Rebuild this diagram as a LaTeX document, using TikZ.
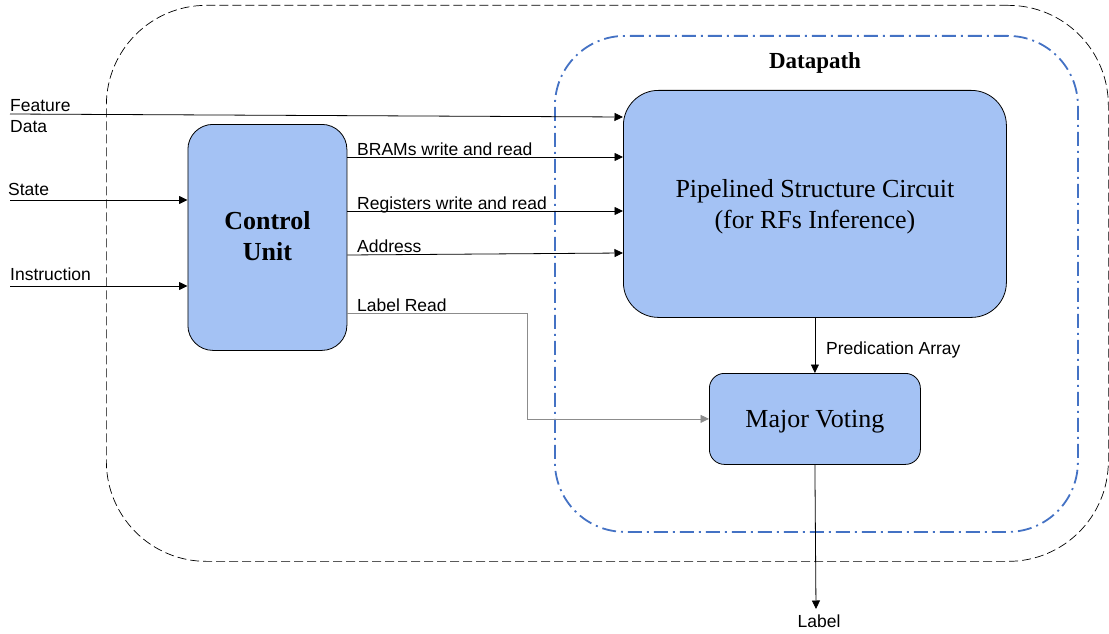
\documentclass[tikz,border=0pt]{standalone}
\usepackage{fontspec}
\setmainfont{Liberation Serif}
\setsansfont{Liberation Sans}
\usetikzlibrary{arrows.meta,calc}
\definecolor{boxfill}{RGB}{164,194,244}
\definecolor{dpblue}{RGB}{68,114,196}
\definecolor{wiregray}{RGB}{140,140,140}

\begin{document}
\begin{tikzpicture}[x=1pt,y=-1pt,
  blk/.style={draw=black, line width=0.8pt, fill=boxfill, rounded corners=#1,
              inner sep=0pt, anchor=north west, align=center},
  wire/.style={line width=0.8pt, -{Triangle[length=8.5pt,width=8pt]}},
  sig/.style={font=\fontsize{17.5}{20}\selectfont\sffamily, inner sep=0pt, anchor=base west},
  big/.style={font=\fontsize{26}{31}\selectfont},
  bigbold/.style={font=\fontsize{26}{31}\selectfont\bfseries},
  frame/.style={inner sep=0pt, anchor=north west, fill=none},
]
\useasboundingbox (0,0) rectangle (1109,634);

% outer boundary and datapath region
\node[frame, draw=black, line width=0.7pt, dash pattern=on 9pt off 4pt,
      rounded corners=100pt, minimum width=1002pt, minimum height=556pt] (outer) at (106,5) {};
\node[frame, draw=dpblue, line width=1.8pt, dash pattern=on 14pt off 5pt on 2pt off 5pt,
      rounded corners=70pt, minimum width=523pt, minimum height=496pt] (dp) at (554,35) {};
\node[font=\fontsize{23}{27}\selectfont\bfseries, inner sep=0pt, anchor=base] (dptitle) at (815,69) {Datapath};

% blocks
\node[blk=25pt, bigbold, minimum width=159pt, minimum height=226pt, text depth=2pt] (cu) at (187.5,124) {Control\\Unit};
\node[blk=35pt, big, minimum width=383pt, minimum height=227pt, text depth=0pt] (pip) at (623,90)
  {Pipelined Structure Circuit\\(for RFs Inference)};
\node[blk=15pt, big, minimum width=211pt, minimum height=91pt, text depth=0pt] (mv) at (709,373) {Major Voting};

% external inputs
\coordinate (fin) at (10,114);
\coordinate (sin) at (10,200);
\coordinate (iin) at (10,286);
\node[sig] (featL) at (10,111) {Feature};
\node[sig] (dataL) at (10,132) {Data};
\node[sig] (stateL) at (8,195) {State};
\node[sig] (instrL) at (10,280) {Instruction};

\draw[wire] (fin) -- ($(pip.north west)+(0,27)$);
\draw[wire] (sin) -- (sin -| cu.west);
\draw[wire] (iin) -- (iin -| cu.west);

% control signals
\draw[wire] ($(cu.north east)+(0,33)$) -- ($(pip.north west)+(0,67)$);
\draw[wire] ($(cu.north east)+(0,87)$) -- ($(pip.north west)+(0,121)$);
\draw[wire] ($(cu.north east)+(0,131)$) -- ($(pip.north west)+(0,163)$);
\node[sig] (bramL) at (357,155) {BRAMs write and read};
\node[sig] (regL) at (357,209) {Registers write and read};
\node[sig] (addrL) at (357,252) {Address};
\node[sig] (lrL) at (357,311) {Label Read};

\coordinate (lrbend) at (527.5,313);
\draw[wire, draw=wiregray] ($(cu.north east)+(0,189)$) -- (lrbend) |- (mv.west);

% datapath flow
\draw[wire] (pip.south -| mv.north) -- (mv.north);
\node[sig] (predL) at (826,354) {Predication Array};

\coordinate (out) at (816,609);
\draw[wire] (mv.south) -- (out);
\node[sig, anchor=base] (outL) at (819,627) {Label};
\end{tikzpicture}
\end{document}
